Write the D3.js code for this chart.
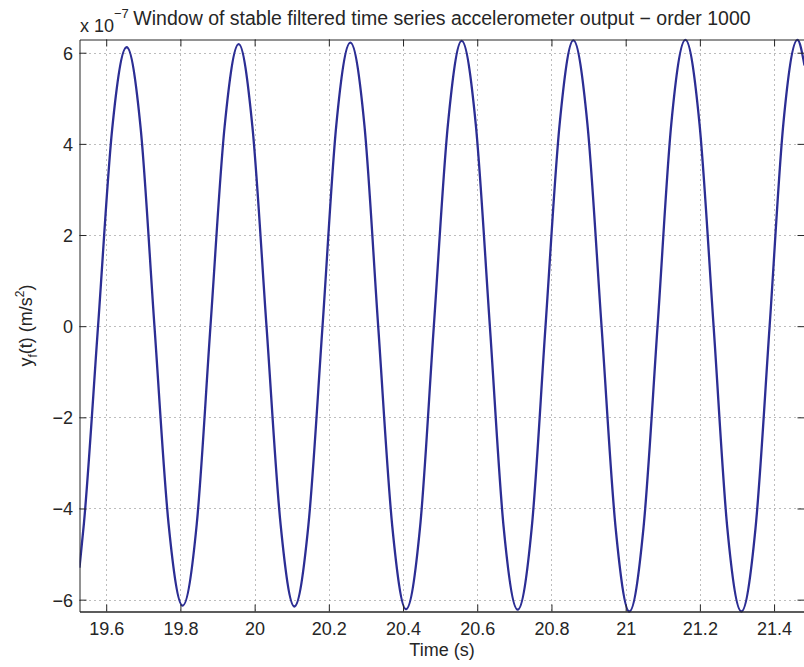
<!DOCTYPE html>
<html>
<head>
<meta charset="utf-8">
<script src="https://cdn.jsdelivr.net/npm/d3@7"></script>
<style>
  html, body { margin: 0; padding: 0; background: #fff; }
  svg { display: block; font-family: "Liberation Sans", Arial, Helvetica, sans-serif; }
</style>
</head>
<body>
<svg id="chart" width="804" height="667"></svg>
<script>
// Filtered accelerometer output, order-1000 filter, stable window (units of 1e-7 m/s^2)
const timeS = [
  19.528, 19.540, 19.578, 19.616, 19.655, 19.693, 19.730, 19.768, 19.806, 19.844,
  19.881, 19.919, 19.957, 19.994, 20.032, 20.070, 20.107, 20.145, 20.183, 20.220,
  20.258, 20.296, 20.333, 20.371, 20.408, 20.446, 20.483, 20.521, 20.558, 20.596,
  20.634, 20.671, 20.709, 20.747, 20.784, 20.822, 20.859, 20.897, 20.935, 20.973,
  21.010, 21.048, 21.086, 21.123, 21.161, 21.199, 21.237, 21.274, 21.312, 21.350,
  21.388, 21.425, 21.463, 21.482
];
const accel = [
  -5.30, -4.32, 0.00, 4.32, 6.12, 4.33, 0.00, -4.33, -6.13, -4.34,
   0.00, 4.37, 6.19, 4.38, 0.00, -4.35, -6.15, -4.36, 0.00, 4.40,
   6.22, 4.40, 0.00, -4.39, -6.21, -4.40, 0.00, 4.43, 6.26, 4.43,
   0.00, -4.40, -6.22, -4.41, 0.00, 4.43, 6.27, 4.43, 0.00, -4.43,
  -6.26, -4.43, 0.00, 4.44, 6.28, 4.44, 0.00, -4.43, -6.26, -4.43,
   0.00, 4.44, 6.28, 5.72
];
const xTicks = [19.6, 19.8, 20.0, 20.2, 20.4, 20.6, 20.8, 21.0, 21.2, 21.4];
const xTickLabels = ["19.6", "19.8", "20", "20.2", "20.4", "20.6", "20.8", "21", "21.2", "21.4"];
const yTicks = [-6, -4, -2, 0, 2, 4, 6];
const yTickLabels = ["\u22126", "\u22124", "\u22122", "0", "2", "4", "6"];
const xDomain = [19.528, 21.482];
const yDomain = [-6.26, 6.29];

const svg = d3.select("#chart");
const ink = "#262626";
const L = 79.5, R = 804.5, T = 39.5, B = 611.5;

const x = d3.scaleLinear().domain(xDomain).range([L, R]);
const y = d3.scaleLinear().domain(yDomain).range([B, T]);

// dotted grid
const grid = svg.append("g")
  .attr("stroke", "#7a7a7a")
  .attr("stroke-width", 1)
  .attr("stroke-dasharray", "1 4");
grid.selectAll(".gx").data(xTicks).join("line")
  .attr("x1", d => Math.round(x(d)) + 0.5).attr("x2", d => Math.round(x(d)) + 0.5)
  .attr("y1", T).attr("y2", B);
grid.selectAll(".gy").data(yTicks).join("line")
  .attr("y1", d => Math.round(y(d)) + 0.5).attr("y2", d => Math.round(y(d)) + 0.5)
  .attr("x1", L).attr("x2", R);

// signal trace
svg.append("clipPath").attr("id", "plotClip")
  .append("rect").attr("x", L).attr("y", T - 2).attr("width", R - L).attr("height", B - T + 4);

const pts = timeS.map((t, i) => [t, accel[i]]);
const line = d3.line()
  .x(d => x(d[0]))
  .y(d => y(d[1]))
  .curve(d3.curveMonotoneX);
svg.append("path")
  .attr("clip-path", "url(#plotClip)")
  .attr("d", line(pts))
  .attr("fill", "none")
  .attr("stroke", "#2c2e94")
  .attr("stroke-width", 2.3)
  .attr("stroke-linejoin", "round");

// axes: ticks pointing inward on all four sides
const xFmt = d => xTickLabels[xTicks.indexOf(d)];
const yFmt = d => yTickLabels[yTicks.indexOf(d)];

const gB = svg.append("g").attr("transform", `translate(0,${B})`)
  .call(d3.axisBottom(x).tickValues(xTicks).tickFormat(xFmt).tickSizeInner(-7).tickSizeOuter(0));
const gT = svg.append("g").attr("transform", `translate(0,${T})`)
  .call(d3.axisTop(x).tickValues(xTicks).tickFormat("").tickSizeInner(-7).tickSizeOuter(0));
const gL = svg.append("g").attr("transform", `translate(${L},0)`)
  .call(d3.axisLeft(y).tickValues(yTicks).tickFormat(yFmt).tickSizeInner(-7).tickSizeOuter(0));
const gR = svg.append("g").attr("transform", `translate(${R},0)`)
  .call(d3.axisRight(y).tickValues(yTicks).tickFormat("").tickSizeInner(-7).tickSizeOuter(0));

[gB, gT, gL, gR].forEach(g => {
  g.select(".domain").attr("stroke", ink).attr("stroke-width", 1);
  g.selectAll(".tick line").attr("stroke", ink).attr("stroke-width", 1);
  g.selectAll(".tick text").attr("fill", ink)
    .attr("font-family", "'Liberation Sans', Arial, Helvetica, sans-serif")
    .attr("font-size", 18);
});
gB.select(".domain").attr("stroke-width", 1.6);
gB.selectAll(".tick text").attr("y", 0).attr("dy", 0).attr("transform", `translate(0,${635 - B})`);
gL.selectAll(".tick text").attr("x", 73 - L).attr("dy", "0.36em");

// axis labels
svg.append("text")
  .attr("x", (L + R) / 2).attr("y", 656)
  .attr("text-anchor", "middle").attr("fill", ink).attr("font-size", 18)
  .text("Time (s)");

const yl = svg.append("text")
  .attr("transform", `translate(32,${(T + B) / 2}) rotate(-90)`)
  .attr("text-anchor", "middle").attr("fill", ink).attr("font-size", 18);
yl.append("tspan").text("y");
yl.append("tspan").attr("font-size", 12).attr("dy", 5).text("f");
yl.append("tspan").attr("dy", -5).text("(t) (m/s");
yl.append("tspan").attr("font-size", 12).attr("dy", -8).text("2");
yl.append("tspan").attr("dy", 8).text(")");

// exponent multiplier
const ex = svg.append("text").attr("x", 80).attr("y", 31.5).attr("fill", ink).attr("font-size", 18);
ex.append("tspan").text("x 10");
ex.append("tspan").attr("font-size", 13).attr("dy", -14).text("\u22127");

// title
svg.append("text")
  .attr("x", (L + R) / 2).attr("y", 25)
  .attr("text-anchor", "middle").attr("fill", ink).attr("font-size", 19.5)
  .text("Window of stable filtered time series accelerometer output \u2212 order 1000");
</script>
</body>
</html>
